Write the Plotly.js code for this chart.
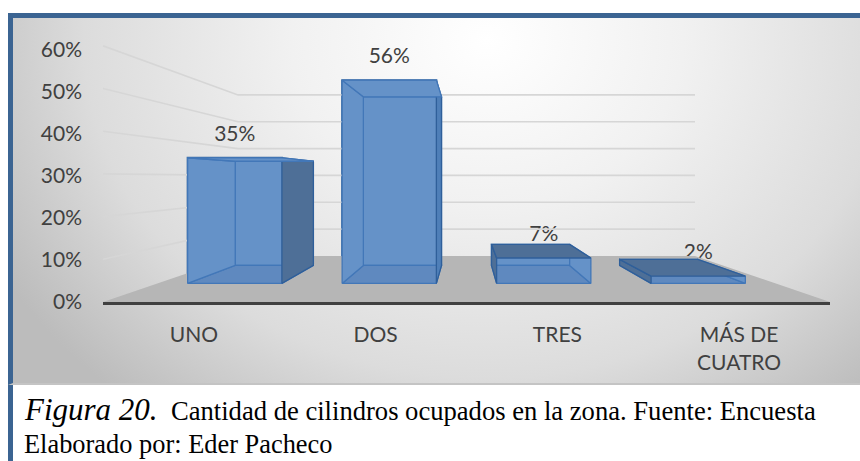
<!DOCTYPE html>
<html><head><meta charset="utf-8">
<script src="https://cdn.plot.ly/plotly-3.0.0.min.js"></script>
<style>
html,body{margin:0;padding:0;background:#fff;width:860px;height:461px;overflow:hidden}
#bg{position:absolute;left:8px;top:13px;width:852px;height:372px;box-sizing:border-box;border-top:5px solid #3b6492;border-left:5px solid #3b6492;border-bottom:2px solid #c4c4c4;
background:radial-gradient(ellipse 560px 470px at 56% 6%,#ffffff 0%,#f1f1f1 35%,#dcdcdc 72%,#bcbcbc 100%)}
#lb{position:absolute;left:8px;top:385px;width:5px;height:76px;background:#3b6492}
#c{position:absolute;left:0;top:0;width:860px;height:461px}
</style></head><body>
<div id="bg"></div><div id="lb"></div><div id="c"></div>
<script>
const categories = ['UNO','DOS','TRES','MÁS DE<br>CUATRO'];
const values = [34.6,56,7,2];
const valueLabels = ['35%','56%','7%','2%'];
const gridTicks = [10,20,30,40,50,60];

const L=103,R=830,T=40,B=302,W=860,H=461;
const labelScale=4.2, geoScale=4.27;     // px per percent
const horizon=(B-178)/geoScale;           // percent height of eye level
const sFloorBack=0.6286, sBarFront=0.85, sBarBack=0.705;
const halfBar=0.305;

function P(c,v,s){return [1.5+(c-1.5)*s, horizon+(v-horizon)*s];}
function poly(pts,fill,line,lw){
  const a=pts.concat([pts[0]]);
  return {type:'scatter',mode:lw?'lines':'none',xaxis:'x3',yaxis:'y3',x:a.map(p=>p[0]),y:a.map(p=>p[1]),
    fill:'toself',fillcolor:fill,line:{color:line||fill,width:lw||0},hoverinfo:'skip',showlegend:false};
}
const traces=[];
// floor
traces.push(poly([P(-0.5,0,1),P(-0.5,0,sFloorBack),P(3.5,0,sFloorBack),P(3.5,0,1)],'#b6b6b6'));
// grid on the side and back walls
gridTicks.forEach(t=>{
  const pts=[P(-0.5,t,1),P(-0.5,t,sFloorBack),P(3.5,t,sFloorBack)];
  traces.push({type:'scatter',mode:'lines',xaxis:'x3',yaxis:'y3',x:pts.map(p=>p[0]),y:pts.map(p=>p[1]),
    line:{color:'#d6d6d6',width:1.6},hoverinfo:'skip',showlegend:false});
});
// bar depth faces
const edge='#4277b8', darkEdge='#2f5f9a', light='#6592c8', lightLow='#5f89bf', dark='#4e6f97';
values.forEach((v,c)=>{
  const l=c-halfBar,r=c+halfBar,f=sBarFront,b=sBarBack;
  const seenFromAbove=v<horizon, leftOfCentre=c<1.5;
  traces.push(poly([P(l,0,b),P(r,0,b),P(r,v,b),P(l,v,b)],light,edge,1.3));
  traces.push(poly([P(l,0,f),P(r,0,f),P(r,0,b),P(l,0,b)],lightLow,edge,1.3));
  traces.push(poly([P(l,0,f),P(l,0,b),P(l,v,b),P(l,v,f)],leftOfCentre?light:dark,leftOfCentre?edge:darkEdge,1.3));
  traces.push(poly([P(r,0,f),P(r,0,b),P(r,v,b),P(r,v,f)],leftOfCentre?(c==0?dark:'#4f7fb8'):light,leftOfCentre?darkEdge:edge,1.3));
  traces.push(poly([P(l,v,f),P(r,v,f),P(r,v,b),P(l,v,b)],seenFromAbove?dark:light,seenFromAbove?darkEdge:edge,1.3));
});
// front faces
traces.push({type:'bar',xaxis:'x2',yaxis:'y2',x:categories,y:values,
  marker:{color:'rgba(101,146,200,0.7)',line:{color:'#38689f',width:2}},hoverinfo:'skip',showlegend:false});
// value labels
traces.push({type:'scatter',mode:'text',xaxis:'x2',yaxis:'y2',x:categories,y:values.map(v=>v+3.3),text:valueLabels,
  textposition:'top center',textfont:{family:'Lato',size:21,color:'#404040'},hoverinfo:'skip',showlegend:false});

// invisible trace so the labelled axes exist
traces.unshift({type:'scatter',mode:'none',xaxis:'x',yaxis:'y',x:categories,y:values,hoverinfo:'skip',showlegend:false});

const font={family:'Lato',size:21,color:'#404040'};
const px=x=>(x-L)/(R-L), py=y=>(B-y)/(B-T);
const plotH=B-T, fs=geoScale*sBarFront, baseY=178+(B-178)*sBarFront;
const layout={
  width:W,height:H,margin:{l:L,r:W-R,t:T,b:H-B,pad:0},
  paper_bgcolor:'rgba(0,0,0,0)',plot_bgcolor:'rgba(0,0,0,0)',barmode:'overlay',bargap:0.39,
  xaxis:{type:'category',categoryorder:'array',categoryarray:categories,range:[-0.5,3.5],showgrid:false,zeroline:false,
    showline:true,linecolor:'#404040',linewidth:3,ticks:'',tickfont:font,ticklabelstandoff:12,fixedrange:true},
  yaxis:{range:[0,plotH/labelScale],tick0:0,dtick:10,ticksuffix:'%',tickfont:font,showgrid:false,zeroline:false,showline:false,
    ticks:'',ticklabelstandoff:20,fixedrange:true},
  xaxis2:{type:'category',categoryorder:'array',categoryarray:categories,overlaying:'x',visible:false,
    range:[1.5-2/sBarFront,1.5+2/sBarFront],fixedrange:true},
  yaxis2:{overlaying:'y',visible:false,range:[-(B-baseY)/fs,(baseY-T)/fs],fixedrange:true},
  xaxis3:{overlaying:'x',visible:false,range:[-0.5,3.5],fixedrange:true},
  yaxis3:{overlaying:'y',visible:false,range:[0,plotH/geoScale],fixedrange:true},
  annotations:[
    {xref:'paper',yref:'paper',x:px(22),y:py(409),xanchor:'left',yanchor:'middle',showarrow:false,text:'<i>Figura 20.</i>',font:{family:'Liberation Serif',size:31,color:'#000'}},
    {xref:'paper',yref:'paper',x:px(169),y:py(411),xanchor:'left',yanchor:'middle',showarrow:false,text:'Cantidad de cilindros ocupados en la zona. Fuente: Encuesta',font:{family:'Liberation Serif',size:26.6,color:'#000'}},
    {xref:'paper',yref:'paper',x:px(22),y:py(444),xanchor:'left',yanchor:'middle',showarrow:false,text:'Elaborado por: Eder Pacheco',font:{family:'Liberation Serif',size:26.4,color:'#000'}}
  ]
};
Plotly.newPlot('c',traces,layout,{displayModeBar:false,staticPlot:true});
</script>
</body></html>
